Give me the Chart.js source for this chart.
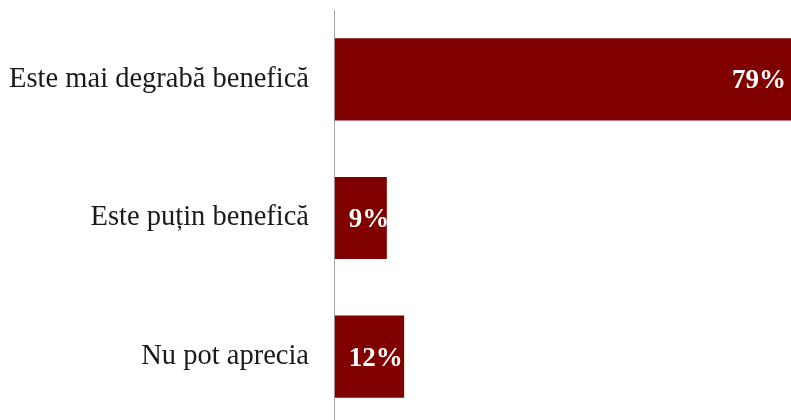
<!DOCTYPE html>
<html><head><meta charset="utf-8">
<script src="https://cdn.jsdelivr.net/npm/chart.js@4"></script>
<style>html,body{margin:0;padding:0;overflow:hidden;background:#fff}#c{display:block;margin-top:-32px}</style>
</head><body><canvas id="c" width="791" height="500"></canvas>
<script>
const categories = ["Este mai degrabă benefică", "Este puțin benefică", "Nu pot aprecia"];
const values = [79, 9, 12];
const valueLabels = ["79%", "9%", "12%"];

const labelPlugin = {
  id: 'vlabels',
  afterDatasetsDraw(chart) {
    const ctx = chart.ctx;
    const meta = chart.getDatasetMeta(0);
    ctx.save();
    ctx.fillStyle = '#ffffff';
    ctx.font = 'bold 27px "Liberation Serif", serif';
    ctx.textBaseline = 'middle';
    meta.data.forEach((bar, i) => {
      const t = valueLabels[i];
      const w = ctx.measureText(t).width;
      let left = bar.x - 5 - w;
      const minLeft = bar.base + 14;
      ctx.save();
      ctx.beginPath();
      ctx.rect(bar.base, bar.y - bar.height / 2, bar.x - bar.base, bar.height);
      ctx.clip();
      if (left < minLeft) left = minLeft;
      ctx.textAlign = 'left';
      ctx.fillText(t, left, bar.y + 2);
      ctx.restore();
    });
    ctx.restore();
  }
};

new Chart(document.getElementById('c'), {
  type: 'bar',
  data: { labels: categories, datasets: [{ data: values, backgroundColor: '#800000', categoryPercentage: 1, barPercentage: 0.592 }] },
  options: {
    indexAxis: 'y', responsive: false, animation: false,
    layout: { autoPadding: false, padding: 0 },
    plugins: { legend: { display: false }, tooltip: { enabled: false } },
    scales: {
      x: { display: false, min: -0.15, max: 79 },
      y: {
        grid: { display: false, drawTicks: false },
        border: { display: true, color: '#a6a6a6', width: 1 },
        ticks: { color: '#1a1a1a', padding: 25, font: { family: '"Liberation Serif", serif', size: 28.5 } },
        afterFit(s) { s.width = 334; }
      }
    }
  },
  plugins: [labelPlugin]
});
</script></body></html>
